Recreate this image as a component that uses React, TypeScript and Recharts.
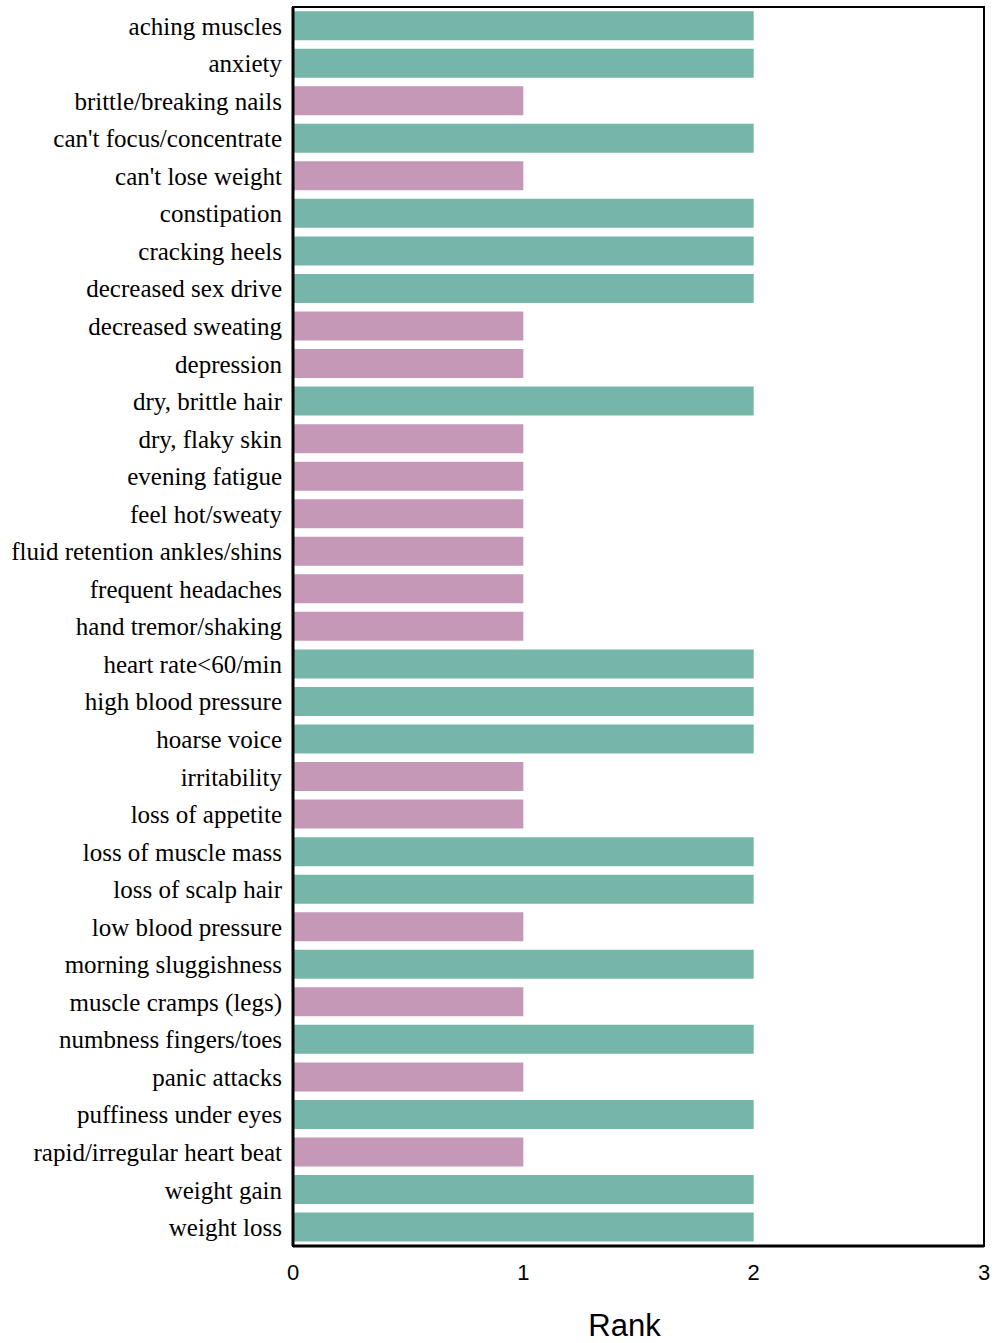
import { BarChart, Bar, XAxis, YAxis, Cell, ReferenceArea } from "recharts"

const symptoms = [
  "aching muscles",
  "anxiety",
  "brittle/breaking nails",
  "can't focus/concentrate",
  "can't lose weight",
  "constipation",
  "cracking heels",
  "decreased sex drive",
  "decreased sweating",
  "depression",
  "dry, brittle hair",
  "dry, flaky skin",
  "evening fatigue",
  "feel hot/sweaty",
  "fluid retention ankles/shins",
  "frequent headaches",
  "hand tremor/shaking",
  "heart rate<60/min",
  "high blood pressure",
  "hoarse voice",
  "irritability",
  "loss of appetite",
  "loss of muscle mass",
  "loss of scalp hair",
  "low blood pressure",
  "morning sluggishness",
  "muscle cramps (legs)",
  "numbness fingers/toes",
  "panic attacks",
  "puffiness under eyes",
  "rapid/irregular heart beat",
  "weight gain",
  "weight loss",
]

const ranks = [2, 2, 1, 2, 1, 2, 2, 2, 1, 1, 2, 1, 1, 1, 1, 1, 1, 2, 2, 2, 1, 1, 2, 2, 1, 2, 1, 2, 1, 2, 1, 2, 2]

const rankTicks = [0, 1, 2, 3]

const TEAL = "#75b6a9"
const PINK = "#c498b6"

const data = symptoms.map((name, i) => ({ name, rank: ranks[i] }))

export default function App() {
  return (
    <div style={{ position: "absolute", left: 0, top: 0, background: "#fff" }}>
      <BarChart
        width={994}
        height={1343}
        data={data}
        layout="vertical"
        barCategoryGap="11%"
        margin={{ top: 7, right: 10, left: 0, bottom: 0 }}
      >
        {/* thin frame on top/right */}
        <ReferenceArea x1={0} x2={3} fill="none" stroke="#000" strokeWidth={2} ifOverflow="extendDomain" />
        <XAxis
          type="number"
          domain={[0, 3]}
          ticks={rankTicks}
          height={97}
          axisLine={{ stroke: "#000", strokeWidth: 3 }}
          tickLine={false}
          tick={{ fill: "#000", fontSize: 22, fontFamily: "Liberation Sans, Arial, sans-serif" }}
          tickMargin={12}
          label={{
            value: "Rank",
            position: "insideBottom",
            offset: 7,
            dx: -14,
            fill: "#000",
            fontSize: 31,
            fontFamily: "Liberation Sans, Arial, sans-serif",
          }}
        />
        <YAxis
          type="category"
          dataKey="name"
          width={293}
          interval={0}
          axisLine={{ stroke: "#000", strokeWidth: 3 }}
          tickLine={false}
          tickMargin={5}
          tick={{ fill: "#000", fontSize: 25, fontFamily: "Liberation Serif, Times New Roman, serif" }}
        />
        <Bar dataKey="rank" isAnimationActive={false}>
          {data.map((d, i) => (
            <Cell key={i} fill={d.rank === 2 ? TEAL : PINK} />
          ))}
        </Bar>
      </BarChart>
    </div>
  )
}
